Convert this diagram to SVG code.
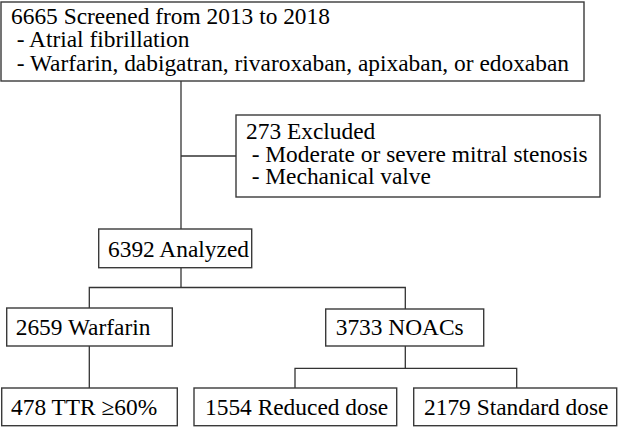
<svg xmlns="http://www.w3.org/2000/svg" width="621" height="428" viewBox="0 0 621 428">
<style>
.box{fill:#fff;stroke:#3a3a3a;stroke-width:1.4}
.t{font-size:23.4px;fill:#000}
.c{fill:none;stroke:#333;stroke-width:1.3}
</style>
<rect width="621" height="428" fill="#fff"/>
<g id="connectors">
<path class="c" d="M181 81V229"/>
<path class="c" d="M181 156H236"/>
<path class="c" d="M181 268V287.5"/>
<path class="c" d="M89.3 308V287.5H405.3V309"/>
<path class="c" d="M89.3 346V388"/>
<path class="c" d="M405.3 346V368.3"/>
<path class="c" d="M295 388V368.3H516.7V388"/>
</g>
<g font-family="Liberation Serif, Times New Roman, DejaVu Serif, serif">
<g id="screened">
<rect class="box" x="1" y="2" width="583" height="79"/>
<text class="t" x="11" y="24">6665 Screened from 2013 to 2018</text>
<text class="t" x="16.7" y="47.3">- Atrial fibrillation</text>
<text class="t" x="16.7" y="70.6">- Warfarin, dabigatran, rivaroxaban, apixaban, or edoxaban</text>
</g>
<g id="excluded">
<rect class="box" x="236" y="115" width="364" height="82"/>
<text class="t" x="246" y="139">273 Excluded</text>
<text class="t" x="251.7" y="161.7">- Moderate or severe mitral stenosis</text>
<text class="t" x="251.7" y="184">- Mechanical valve</text>
</g>
<g id="analyzed">
<rect class="box" x="98.7" y="229" width="153" height="38.7"/>
<text class="t" x="108" y="256.5">6392 Analyzed</text>
</g>
<g id="warfarin">
<rect class="box" x="6.7" y="308" width="165.6" height="38"/>
<text class="t" x="15.7" y="335">2659 Warfarin</text>
</g>
<g id="noacs">
<rect class="box" x="325.7" y="309" width="158" height="37"/>
<text class="t" x="335.7" y="335">3733 NOACs</text>
</g>
<g id="ttr">
<rect class="box" x="1.7" y="388" width="175.6" height="37.7"/>
<text class="t" x="11" y="415">478 TTR ≥60%</text>
</g>
<g id="reduced">
<rect class="box" x="194" y="388" width="202.7" height="37.7"/>
<text class="t" x="205" y="415">1554 Reduced dose</text>
</g>
<g id="standard">
<rect class="box" x="413.7" y="388" width="203" height="37.7"/>
<text class="t" x="424" y="415">2179 Standard dose</text>
</g>
</g>
</svg>
